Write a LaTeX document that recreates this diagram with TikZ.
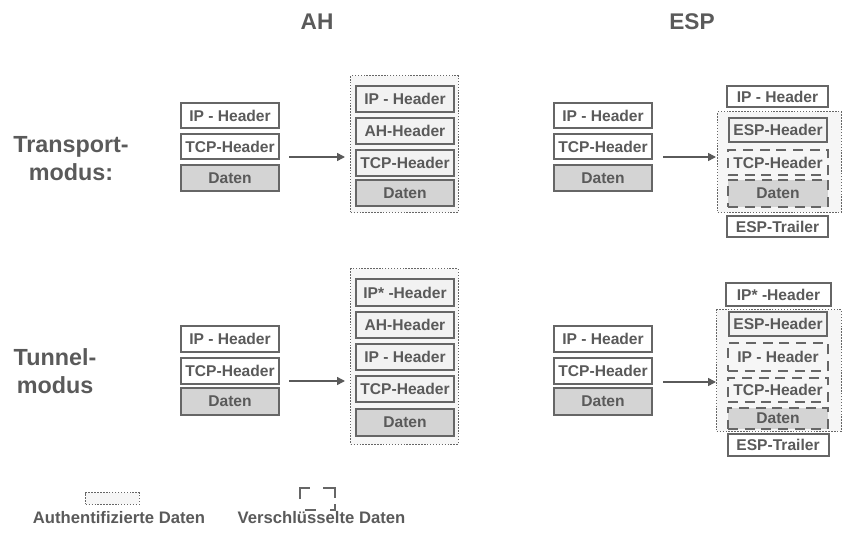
\documentclass[tikz,border=0pt]{standalone}
\usepackage{fontspec}
\setmainfont{Liberation Sans}
\usetikzlibrary{arrows.meta}
\definecolor{tg}{HTML}{5A5A5A}
\definecolor{bc}{HTML}{666666}
\definecolor{dg}{HTML}{D4D4D4}
\definecolor{lf}{HTML}{F2F2F2}
\definecolor{af}{HTML}{F6F6F6}
\tikzset{
  sz/.style 2 args={minimum width={#1*0.75pt-1.5pt}, minimum height={#2*0.75pt-1.5pt}},
  lbl/.style={text=tg, font=\bfseries\fontsize{11.7}{13}\selectfont, inner sep=0pt},
  pkt/.style={lbl, draw=bc, line width=1.5pt, fill=white},
  inpkt/.style={pkt, fill=lf},
  datpkt/.style={pkt, fill=dg},
  encpkt/.style={lbl, draw=bc, line width=1.5pt, dash pattern=on 7.5pt off 5pt},
  encdat/.style={encpkt, fill=dg},
  authreg/.style={draw=bc, line width=1.1pt, dash pattern=on 1.1pt off 1.1pt, fill=af, inner sep=0pt},
  regsz/.style 2 args={minimum width={#1*0.75pt-1.1pt}, minimum height={#2*0.75pt-1.1pt}},
  arr/.style={draw=tg, line width=1.1pt, -{Triangle[length=6pt, width=6pt]}},
  title/.style={text=tg, font=\bfseries\fontsize{17}{21}\selectfont, inner sep=0pt},
  rowlbl/.style={text=tg, font=\bfseries\fontsize{17.5}{21}\selectfont, align=center, inner sep=0pt},
  legtxt/.style={text=tg, font=\bfseries\fontsize{12.5}{14}\selectfont, inner sep=0pt}
}
\begin{document}
\begin{tikzpicture}[x=0.75pt,y=-0.75pt]
\useasboundingbox (0,0) rectangle (860,542);

% titles
\node[title] (tAH) at (317,22) {AH};
\node[title] (tESP) at (692,22) {ESP};

% row labels
\node[rowlbl] (rT) at (71,159) {Transport-\\modus:};
\node[rowlbl] (rU) at (55,371.5) {Tunnel-\\modus};

% ---------- Transport, AH ----------
\node[pkt, sz={100}{27}] (l1ip) at (230,115.5) {IP - Header};
\node[pkt, sz={100}{27}] (l1tcp) at (230,146.5) {TCP-Header};
\node[datpkt, sz={100}{28}] (l1d) at (230,178) {Daten};

\node[authreg, regsz={109}{138}] (r1) at (404.5,144) {};
\node[inpkt, sz={100}{28}] (a1ip) at (405,99) {IP - Header};
\node[inpkt, sz={100}{28}] (a1ah) at (405,131) {AH-Header};
\node[inpkt, sz={100}{28}] (a1tcp) at (405,162.5) {TCP-Header};
\node[datpkt, sz={100}{28}] (a1d) at (405,193) {Daten};

\coordinate (s1) at (289,157);
\coordinate (e1) at (345,157);
\draw[arr] (s1) -- (e1);

% ---------- Transport, ESP ----------
\node[pkt, sz={100}{27}] (l2ip) at (603,115.5) {IP - Header};
\node[pkt, sz={100}{27}] (l2tcp) at (603,146.5) {TCP-Header};
\node[datpkt, sz={100}{28}] (l2d) at (603,178) {Daten};

\node[authreg, regsz={125}{102}] (r2) at (779.5,162) {};
\node[pkt, sz={103}{23}] (e2ip) at (777.5,96.5) {IP - Header};
\node[pkt, fill=lf, sz={100}{26}] (e2esp) at (778,130) {ESP-Header};
\node[encpkt, sz={102}{27}] (e2tcp) at (778,162.5) {TCP-Header};
\node[encdat, sz={102}{29}] (e2d) at (778,193.5) {Daten};
\node[pkt, sz={103}{23}] (e2tr) at (777.5,226.5) {ESP-Trailer};

\coordinate (s2) at (663,157);
\coordinate (e2) at (716,157);
\draw[arr] (s2) -- (e2);

% ---------- Tunnel, AH ----------
\node[pkt, sz={100}{28}] (l3ip) at (230,339) {IP - Header};
\node[pkt, sz={100}{28}] (l3tcp) at (230,370.5) {TCP-Header};
\node[datpkt, sz={100}{29}] (l3d) at (230,401.5) {Daten};

\node[authreg, regsz={109}{177}] (r3) at (404.5,356.5) {};
\node[inpkt, sz={100}{29}] (a3ipx) at (405,292.5) {IP* -Header};
\node[inpkt, sz={100}{28}] (a3ah) at (405,324.5) {AH-Header};
\node[inpkt, sz={100}{28}] (a3ip) at (405,356.5) {IP - Header};
\node[inpkt, sz={100}{28}] (a3tcp) at (405,389) {TCP-Header};
\node[datpkt, sz={100}{29}] (a3d) at (405,422.5) {Daten};

\coordinate (s3) at (289,381);
\coordinate (e3) at (345,381);
\draw[arr] (s3) -- (e3);

% ---------- Tunnel, ESP ----------
\node[pkt, sz={100}{28}] (l4ip) at (603,339) {IP - Header};
\node[pkt, sz={100}{28}] (l4tcp) at (603,370.5) {TCP-Header};
\node[datpkt, sz={100}{29}] (l4d) at (603,401.5) {Daten};

\node[authreg, regsz={126}{123}] (r4) at (779,370.5) {};
\node[pkt, sz={107}{25}] (e4ipx) at (778.5,294.5) {IP* -Header};
\node[pkt, fill=lf, sz={100}{26}] (e4esp) at (778,324) {ESP-Header};
\node[encpkt, sz={102}{30}] (e4ip) at (778,357) {IP - Header};
\node[encpkt, sz={102}{26}] (e4tcp) at (778,390) {TCP-Header};
\node[encdat, sz={102}{23}] (e4d) at (778,418) {Daten};
\node[pkt, sz={103}{24}] (e4tr) at (778,445) {ESP-Trailer};

\coordinate (s4) at (663,382);
\coordinate (e4) at (716,382);
\draw[arr] (s4) -- (e4);

% ---------- Legend ----------
\node[authreg, regsz={55}{13}] (legA) at (112.5,498.5) {};
\node[legtxt] (legAt) at (119,518) {Authentifizierte Daten};
\draw[draw=bc, line width=1.5pt] (300,499) -- (300,488) -- (310,488);
\draw[draw=bc, line width=1.5pt] (323,488) -- (335,488) -- (335,498);
\draw[draw=bc, line width=1.5pt] (305,510) -- (316,510);
\draw[draw=bc, line width=1.5pt] (330,510) -- (335,510) -- (335,504);
\node[legtxt] (legVt) at (321.5,518) {Verschlüsselte Daten};
\end{tikzpicture}
\end{document}
